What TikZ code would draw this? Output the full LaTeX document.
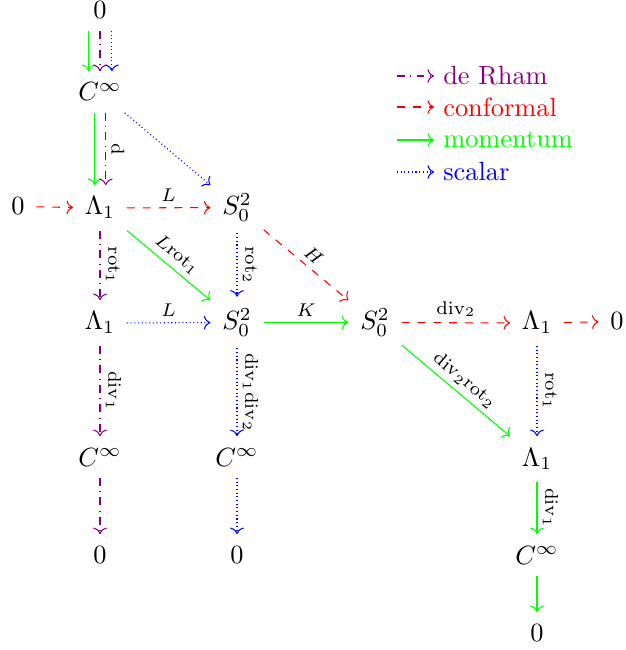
\documentclass[tikz,border=0pt]{standalone}
\usepackage{tikz}
\usetikzlibrary{arrows.meta}

\begin{document}
\begin{tikzpicture}[x=0.013333cm,y=-0.013333cm,
  obj/.style={anchor=base,inner sep=1ex},
  lbl/.style={font=\scriptsize,text=black,midway,above,sloped,inner sep=2pt},
  derham/.style={->,violet,dashdotted},
  conformal/.style={->,red,dashed},
  momentum/.style={->,green},
  scalar/.style={->,blue,densely dotted},
  keytext/.style={anchor=west}]
  \useasboundingbox (0,0) rectangle (625,650);
  % the spaces
  \node[obj] (z0) at (100,19) {$0$};
  \node[obj] (C1) at (100,101) {$C^\infty$};
  \node[obj] (zL) at (18,215) {$0$};
  \node[obj] (La1) at (100,215) {$\Lambda_1$};
  \node[obj] (S1) at (237,215) {$S^2_0$};
  \node[obj] (La2) at (100,330) {$\Lambda_1$};
  \node[obj] (S2) at (237,330) {$S^2_0$};
  \node[obj] (S3) at (375,330) {$S^2_0$};
  \node[obj] (La3) at (537,330) {$\Lambda_1$};
  \node[obj] (zR) at (617,330) {$0$};
  \node[obj] (C2) at (100,466) {$C^\infty$};
  \node[obj] (C3) at (237,466) {$C^\infty$};
  \node[obj] (La4) at (537,466) {$\Lambda_1$};
  \node[obj] (zb1) at (100,563) {$0$};
  \node[obj] (zb2) at (237,563) {$0$};
  \node[obj] (C4) at (537,564) {$C^\infty$};
  \node[obj] (zb3) at (537,641) {$0$};
  % the maps
  \draw[momentum] ([xshift=-4.3pt]z0.south) -- ([xshift=-4.3pt]C1.north);
  \draw[derham] (z0) -- (C1);
  \draw[scalar] ([xshift=4.5pt]z0.south) -- ([xshift=4.5pt]C1.north);
  \draw[momentum] ([xshift=-2pt]C1.south) -- ([xshift=-2pt]La1.north);
  \draw[derham] ([xshift=2.2pt]C1.south) -- ([xshift=2.2pt]La1.north) node[lbl] {$\mathrm{d}$};
  \draw[scalar] (C1) -- (S1);
  \draw[conformal] (zL) -- (La1);
  \draw[conformal] (La1) -- (S1) node[lbl] {$L$};
  \draw[derham] (La1) -- (La2) node[lbl] {$\mathrm{rot}_1$};
  \draw[momentum] (La1) -- (S2) node[lbl] {$L\mathrm{rot}_1$};
  \draw[scalar] (S1) -- (S2) node[lbl] {$\mathrm{rot}_2$};
  \draw[conformal] (S1) -- (S3) node[lbl] {$H$};
  \draw[scalar] (La2) -- (S2) node[lbl] {$L$};
  \draw[momentum] (S2) -- (S3) node[lbl] {$K$};
  \draw[conformal] (S3) -- (La3) node[lbl] {$\mathrm{div}_2$};
  \draw[conformal] (La3) -- (zR);
  \draw[momentum] (S3) -- (La4) node[lbl] {$\mathrm{div}_2\mathrm{rot}_2$};
  \draw[derham] (La2) -- (C2) node[lbl] {$\mathrm{div}_1$};
  \draw[scalar] (S2) -- (C3) node[lbl] {$\mathrm{div}_1\mathrm{div}_2$};
  \draw[scalar] (La3) -- (La4) node[lbl] {$\mathrm{rot}_1$};
  \draw[derham] (C2) -- (zb1);
  \draw[scalar] (C3) -- (zb2);
  \draw[momentum] (La4) -- (C4) node[lbl] {$\mathrm{div}_1$};
  \draw[momentum] (C4) -- (zb3);
  % key
  \node[keytext,violet] (kdr) at (434,76) {de Rham};
  \node[keytext,red] (kcf) at (434,107) {conformal};
  \node[keytext,green] (kmo) at (434,140) {momentum};
  \node[keytext,blue] (ksc) at (434,172) {scalar};
  \coordinate (kdr0) at (397,76);
  \coordinate (kcf0) at (397,107);
  \coordinate (kmo0) at (397,140);
  \coordinate (ksc0) at (397,172);
  \draw[derham] (kdr0) -- (kdr);
  \draw[conformal] (kcf0) -- (kcf);
  \draw[momentum] (kmo0) -- (kmo);
  \draw[scalar] (ksc0) -- (ksc);
\end{tikzpicture}
\end{document}
